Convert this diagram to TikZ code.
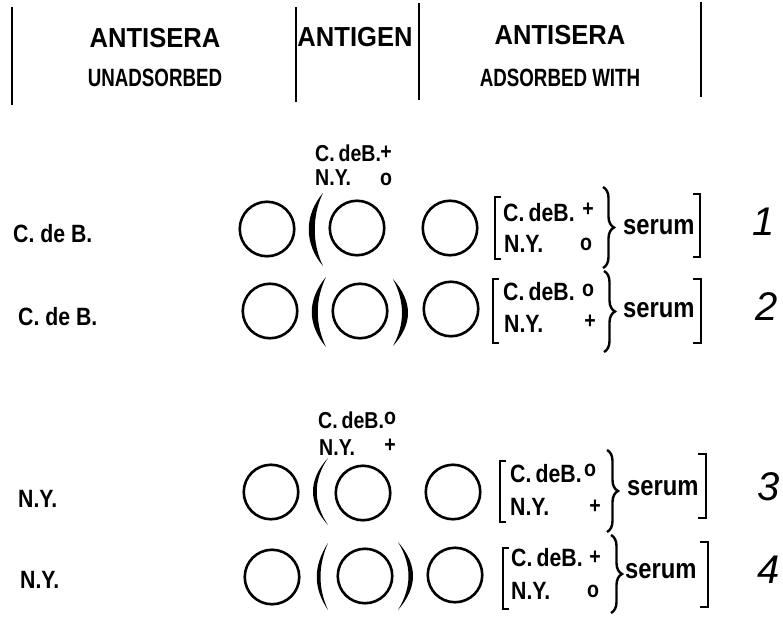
\documentclass[tikz,border=0pt]{standalone}
\usepackage{fontspec}
\setmainfont{Liberation Sans}
\newfontfamily\lt[FakeStretch=0.85]{Liberation Sans Bold}
\newfontfamily\hdA[FakeStretch=0.93]{Liberation Sans Bold}
\newfontfamily\hdB[FakeStretch=0.75]{Liberation Sans Bold}
\usetikzlibrary{decorations.pathreplacing}

\tikzset{
  well/.style={circle,draw,line width=2.6pt,minimum size=54.5pt,inner sep=0pt},
  txt/.style={inner sep=0pt,anchor=base west,font=\lt\fontsize{25}{25}\selectfont},
  lefttxt/.style={inner sep=0pt,anchor=base west,font=\lt\fontsize{25}{26}\selectfont},
  toptxt/.style={inner sep=0pt,anchor=base west,font=\lt\fontsize{23}{24}\selectfont},
  sign/.style={inner sep=0pt,anchor=center,font=\lt\fontsize{23}{24}\selectfont},
  serumtxt/.style={inner sep=0pt,anchor=base west,font=\lt\fontsize{28}{28}\selectfont},
  hdbig/.style={inner sep=0pt,anchor=base,font=\hdA\fontsize{27.5}{28}\selectfont},
  hdsmall/.style={inner sep=0pt,anchor=base,font=\hdB\fontsize{25}{25}\selectfont},
  num/.style={inner sep=0pt,anchor=center,font=\itshape\fontsize{40}{40}\selectfont},
  rule/.style={line width=2.4pt},
  bk/.style={line width=2.4pt},
  brc/.style={decorate,decoration={brace,amplitude=11pt},line width=2.4pt},
}

\begin{document}
\begin{tikzpicture}[x=1pt,y=-1pt]
\useasboundingbox (0,0) rectangle (783,617);
\fill[white] (0,0) rectangle (783,617);

% ---- column headings ----
\draw[rule] (12,7) -- (12,105);
\draw[rule] (296,7) -- (296,102);
\draw[rule] (419,3) -- (419,100);
\draw[rule] (701,2) -- (701,97);
\node[hdbig]   (hUnA)  at (155,48) {ANTISERA};
\node[hdsmall] (hUnB)  at (155,87) {UNADSORBED};
\node[hdbig]   (hAg)   at (355,47) {ANTIGEN};
\node[hdbig]   (hAdA)  at (560,45) {ANTISERA};
\node[hdsmall] (hAdB)  at (560,87) {ADSORBED WITH};

% ---- antigen legend, first pair of rows ----
\node[toptxt] (t1a) at (315,162) {C.\,deB.};
\node[sign]   (t1p) at (386,153) {+};
\node[toptxt] (t1b) at (315,186) {N.Y.};
\node[sign]   (t1o) at (386,179) {o};

% ---- row 1 ----
\node[lefttxt] (l1) at (13,243) {C. de B.};
\node[well] (w1a) at (267,229) {};
\node[well] (w1b) at (357,228) {};
\node[well] (w1c) at (450,228) {};
\fill (323,193) .. controls (304,215) and (304,244) .. (323,266)
      .. controls (312,244) and (312,215) .. (323,193);
\draw[bk] (501,197) -- (495,197) -- (495,259) -- (501,259);
\node[txt]  (s1a) at (503,222) {C.\,deB.};
\node[sign] (s1p) at (588,210) {+};
\node[txt]  (s1b) at (504,253) {N.Y.};
\node[sign] (s1o) at (586,244) {o};
\draw[brc] (603,187) -- (603,268);
\node[serumtxt] (sr1) at (623,235) {serum};
\draw[bk] (693,194) -- (700,194) -- (700,257) -- (693,257);
\node[num] (n1) at (764,222) {1};

% ---- row 2 ----
\node[lefttxt] (l2) at (18,325) {C. de B.};
\node[well] (w2a) at (270,311) {};
\node[well] (w2b) at (360,311) {};
\node[well] (w2c) at (451,309) {};
\fill (326,277) .. controls (307,300) and (307,324) .. (326,347)
      .. controls (315,324) and (315,300) .. (326,277);
\fill (393,279) .. controls (413,302) and (413,324) .. (393,346)
      .. controls (405,324) and (405,302) .. (393,279);
\draw[bk] (499,279) -- (493,279) -- (493,343) -- (499,343);
\node[txt]  (s2a) at (503,300) {C.\,deB.};
\node[sign] (s2o) at (588,290) {o};
\node[txt]  (s2b) at (504,332) {N.Y.};
\node[sign] (s2p) at (590,322) {+};
\draw[brc] (604,271) -- (604,352);
\node[serumtxt] (sr2) at (623,317) {serum};
\draw[bk] (693,279) -- (701,279) -- (701,343) -- (693,343);
\node[num] (n2) at (767,307) {2};

% ---- antigen legend, second pair of rows ----
\node[toptxt] (t3a) at (318,428) {C.\,deB.};
\node[sign]   (t3o) at (390,418) {o};
\node[toptxt] (t3b) at (319,455) {N.Y.};
\node[sign]   (t3p) at (390,446) {+};

% ---- row 3 ----
\node[lefttxt] (l3) at (18,507) {N.Y.};
\node[well] (w3a) at (271,492) {};
\node[well] (w3b) at (363,493) {};
\node[well] (w3c) at (453,492) {};
\fill (328,458) .. controls (308,480) and (308,503) .. (328,525)
      .. controls (313,503) and (313,480) .. (328,458);
\draw[bk] (506,461) -- (500,461) -- (500,522) -- (506,522);
\node[txt]  (s3a) at (510,482) {C.\,deB.};
\node[sign] (s3o) at (590,470) {o};
\node[txt]  (s3b) at (510,515) {N.Y.};
\node[sign] (s3p) at (595,507) {+};
\draw[brc] (607,450) -- (607,532);
\node[serumtxt] (sr3) at (627,495) {serum};
\draw[bk] (698,454) -- (706,454) -- (706,518) -- (698,518);
\node[num] (n3) at (769,487) {3};

% ---- row 4 ----
\node[lefttxt] (l4) at (20,588) {N.Y.};
\node[well] (w4a) at (272,577) {};
\node[well] (w4b) at (365,576) {};
\node[well] (w4c) at (455,575) {};
\fill (328,543) .. controls (313,566) and (313,588) .. (328,610)
      .. controls (318,588) and (318,566) .. (328,543);
\fill (398,542) .. controls (418,565) and (418,587) .. (398,610)
      .. controls (412,587) and (412,565) .. (398,542);
\draw[bk] (509,548) -- (503,548) -- (503,609) -- (509,609);
\node[txt]  (s4a) at (511,566) {C.\,deB.};
\node[sign] (s4p) at (595,558) {+};
\node[txt]  (s4b) at (511,599) {N.Y.};
\node[sign] (s4o) at (593,591) {o};
\draw[brc] (611,535) -- (611,613);
\node[serumtxt] (sr4) at (625,578) {serum};
\draw[bk] (700,542) -- (708,542) -- (708,607) -- (700,607);
\node[num] (n4) at (769,570) {4};
\end{tikzpicture}
\end{document}
